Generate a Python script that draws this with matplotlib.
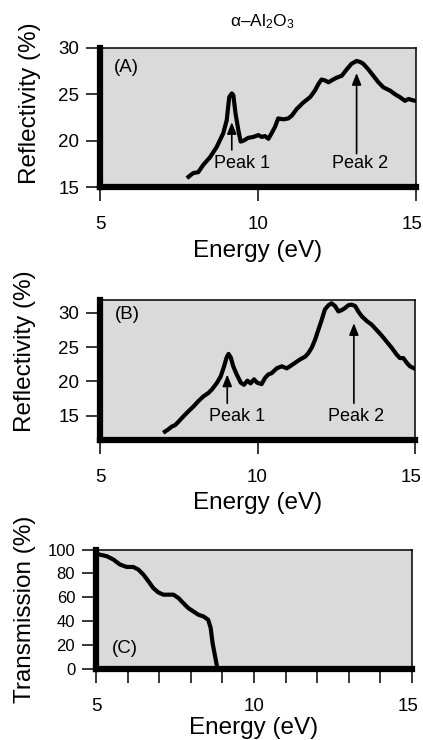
import matplotlib
matplotlib.use("Agg")
import matplotlib.pyplot as plt
import matplotlib.transforms as mtransforms

plt.rcParams['font.family'] = ['Liberation Sans', 'DejaVu Sans']
plt.rcParams['mathtext.fontset'] = 'custom'
plt.rcParams['mathtext.rm'] = 'Liberation Sans'
plt.rcParams['mathtext.it'] = 'Liberation Sans'

# ---------------- data ----------------
title = "α–Al$_2$O$_3$"

energy_a = [7.80, 7.95, 8.11, 8.27, 8.48, 8.69, 8.90, 9.01, 9.09, 9.17, 9.22, 9.29,
            9.38, 9.45, 9.54, 9.69, 9.85, 10.01, 10.12, 10.22, 10.33, 10.43, 10.54,
            10.64, 10.80, 10.96, 11.07, 11.22, 11.43, 11.65, 11.80, 11.91, 12.01,
            12.12, 12.23, 12.38, 12.49, 12.65, 12.81, 12.96, 13.12, 13.23, 13.33,
            13.49, 13.65, 13.81, 13.97, 14.18, 14.34, 14.49, 14.65, 14.76, 14.86, 14.97]
refl_a = [16.1, 16.5, 16.6, 17.4, 18.2, 19.3, 20.8, 22.2, 24.7, 25.1, 24.9, 22.9,
          21.1, 19.9, 20.0, 20.3, 20.4, 20.6, 20.4, 20.5, 20.2, 20.8, 21.5,
          22.4, 22.3, 22.4, 22.7, 23.4, 24.1, 24.7, 25.4, 26.1, 26.6,
          26.5, 26.3, 26.6, 26.8, 27.0, 27.7, 28.3, 28.6, 28.5, 28.3,
          27.7, 27.0, 26.3, 25.75, 25.4, 25.0, 24.7, 24.3, 24.5, 24.4, 24.3]

energy_b = [7.06, 7.17, 7.28, 7.38, 7.49, 7.65, 7.80, 7.96, 8.12, 8.28, 8.44, 8.55,
            8.70, 8.83, 8.94, 9.02, 9.08, 9.15, 9.23, 9.34, 9.47, 9.57, 9.68, 9.78,
            9.89, 9.99, 10.13, 10.24, 10.34, 10.45, 10.61, 10.77, 10.93, 11.03,
            11.19, 11.35, 11.51, 11.61, 11.72, 11.83, 11.93, 12.04, 12.14, 12.25,
            12.35, 12.46, 12.57, 12.67, 12.78, 12.88, 12.99, 13.10, 13.20, 13.31,
            13.47, 13.62, 13.78, 13.94, 14.10, 14.26, 14.42, 14.52, 14.63, 14.74,
            14.84, 14.97]
refl_b = [12.66, 13.0, 13.4, 13.6, 14.1, 14.9, 15.6, 16.3, 17.1, 17.8, 18.3, 18.8,
          19.7, 20.7, 22.2, 23.5, 24.0, 23.5, 22.2, 21.0, 19.8, 19.5, 20.1, 19.7,
          20.3, 19.8, 19.6, 20.5, 21.0, 21.2, 21.9, 22.2, 21.9, 22.2,
          22.7, 23.2, 23.6, 24.1, 24.9, 26.1, 27.5, 29.0, 30.5, 31.1,
          31.4, 31.0, 30.2, 30.4, 30.7, 31.1, 31.2, 31.0, 30.2, 29.5,
          28.8, 28.3, 27.5, 26.7, 25.8, 24.9, 23.9, 23.4, 23.4, 22.7,
          22.2, 21.9]

energy_c = [5.11, 5.34, 5.55, 5.76, 5.97, 6.18, 6.34, 6.50, 6.66, 6.81, 6.97, 7.13,
            7.29, 7.45, 7.61, 7.76, 7.92, 8.08, 8.24, 8.40, 8.55, 8.63, 8.69, 8.77,
            8.82, 8.85]
trans_c = [95.8, 94.4, 91.6, 87.4, 85.4, 85.4, 83.2, 79.0, 73.4, 67.8, 64.1, 62.2,
           62.2, 62.2, 59.4, 55.2, 51.0, 48.2, 45.4, 44.0, 41.2, 34.2, 21.6, 10.4,
           3.4, 0.0]

x_ticks = [5, 10, 15]
x_minor_c = [6, 7, 8, 9, 11, 12, 13, 14]
y_ticks_a = [15, 20, 25, 30]
y_ticks_b = [15, 20, 25, 30]
y_ticks_c = [0, 20, 40, 60, 80, 100]

# peak arrows: (x, tail_y, head_y, label_x, label_y, text)
peaks_a = [(9.17, 19.0, 22.0, 9.48, 17.5, "Peak 1"),
           (13.12, 18.6, 27.3, 13.23, 17.5, "Peak 2")]
peaks_b = [(9.04, 16.8, 21.0, 9.34, 14.85, "Peak 1"),
           (13.06, 16.8, 28.5, 13.12, 14.85, "Peak 2")]

# ---------------- figure ----------------
W, H = 423, 740
fig = plt.figure(figsize=(W / 100, H / 100), dpi=100)
fig.patch.set_facecolor('white')

def px_axes(l, r, t, b):
    return fig.add_axes([l / W, 1 - b / H, (r - l) / W, (b - t) / H])

ax_a = px_axes(100, 416, 48, 187)
ax_b = px_axes(100, 415, 299.5, 440)
ax_c = px_axes(96, 412, 549.5, 669)

bg = '#dadada'

def style(ax, yticks, ylim, ylabel, ylab_xy, xlab_y, ytick_fs=13.5, xtick_fs=13.5):
    ax.set_facecolor(bg)
    ax.set_xlim(5, 15)
    ax.set_ylim(*ylim)
    ax.set_xticks(x_ticks)
    ax.set_yticks(yticks)
    for s in ['left', 'bottom']:
        ax.spines[s].set_linewidth(4.5)
    for s in ['top', 'right']:
        ax.spines[s].set_linewidth(1.1)
    ax.tick_params(axis='both', direction='out', length=10, width=1.1, color='black')
    ax.tick_params(axis='y', labelsize=ytick_fs, pad=5)
    ax.tick_params(axis='x', labelsize=xtick_fs, pad=11)
    ax.set_ylabel(ylabel, fontsize=17.5)
    ax.yaxis.label.set_va('center')
    ax.yaxis.set_label_coords(*ylab_xy)
    ax.set_xlabel("Energy (eV)", fontsize=17.5)
    ax.xaxis.label.set_va('center')
    ax.xaxis.set_label_coords(0.5, xlab_y)

style(ax_a, y_ticks_a, (15, 30), "Reflectivity (%)", (-0.222, 0.60), -0.457)
style(ax_b, y_ticks_b, (11.44, 31.95), "Reflectivity (%)", (-0.237, 0.63), -0.45)
style(ax_c, y_ticks_c, (0, 100), "Transmission (%)", (-0.225, 0.50), -0.495,
      ytick_fs=12, xtick_fs=13.5)
ax_c.set_xticks(x_minor_c, minor=True)
ax_c.tick_params(axis='x', which='minor', direction='out', length=10, width=1.1)

# nudge the last x tick label ("15") slightly left so it stays on the canvas
for ax in (ax_a, ax_b, ax_c):
    lab = ax.get_xticklabels()[-1]
    lab.set_transform(lab.get_transform() +
                      mtransforms.ScaledTranslation(-4 / 100, 0, fig.dpi_scale_trans))

ax_a.plot(energy_a, refl_a, color='black', lw=3, solid_joinstyle='round', zorder=3)
ax_b.plot(energy_b, refl_b, color='black', lw=3, solid_joinstyle='round', zorder=3)
ax_c.plot(energy_c, trans_c, color='black', lw=3, solid_joinstyle='round', zorder=3)

for ax, peaks in [(ax_a, peaks_a), (ax_b, peaks_b)]:
    for x, ty, hy, lx, ly, txt in peaks:
        ax.annotate("", xy=(x, hy), xytext=(x, ty),
                    arrowprops=dict(arrowstyle='-|>,head_length=0.5,head_width=0.2',
                                    color='black', lw=1.2,
                                    mutation_scale=14, shrinkA=0, shrinkB=0))
        ax.text(lx, ly, txt, ha='center', va='center', fontsize=13)

ax_a.text(0.085, 0.86, "(A)", transform=ax_a.transAxes, ha='center', va='center', fontsize=13.5)
ax_b.text(0.087, 0.89, "(B)", transform=ax_b.transAxes, ha='center', va='center', fontsize=13.5)
ax_c.text(0.092, 0.17, "(C)", transform=ax_c.transAxes, ha='center', va='center', fontsize=13.5)

fig.text(262 / W, 1 - 22 / H, title, ha='center', va='center', fontsize=12.5)

fig.savefig("out.png", dpi=100, facecolor='white')
